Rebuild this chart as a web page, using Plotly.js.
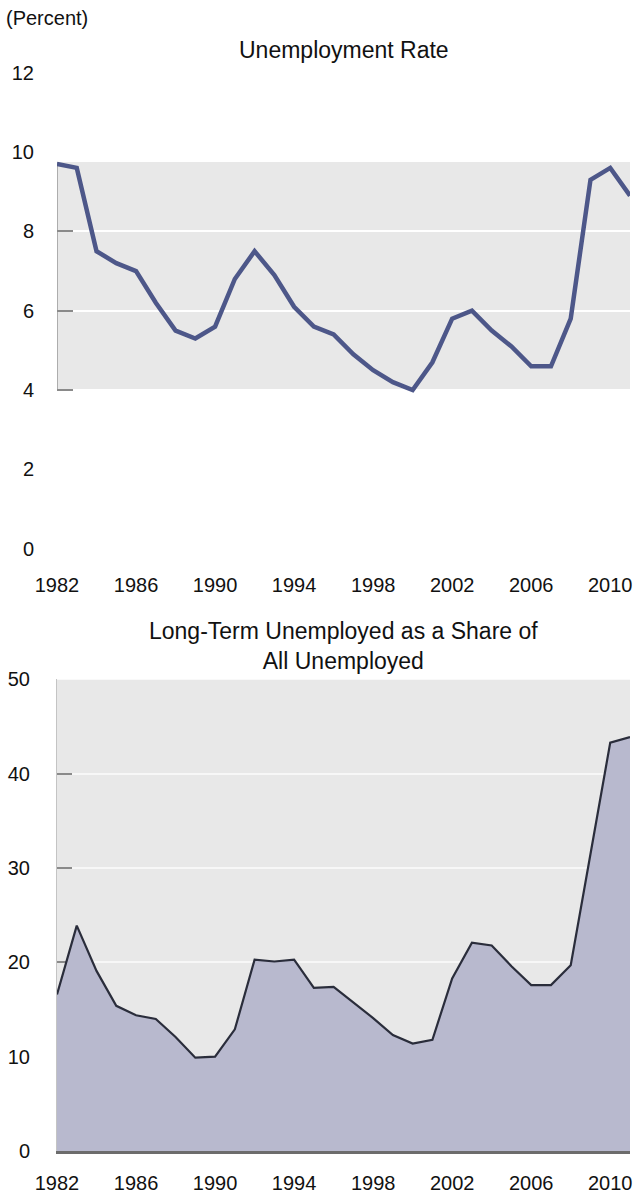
<!DOCTYPE html>
<html>
<head>
<meta charset="utf-8">
<script src="https://cdn.plot.ly/plotly-3.0.1.min.js"></script>
<style>
  html, body { margin: 0; padding: 0; background: #ffffff; }
  #chart { width: 636px; height: 1199px; }
</style>
</head>
<body>
<div id="chart"></div>
<script>
// ---- Data ----
const years = [1982,1983,1984,1985,1986,1987,1988,1989,1990,1991,1992,1993,1994,1995,1996,
               1997,1998,1999,2000,2001,2002,2003,2004,2005,2006,2007,2008,2009,2010,2011];
const unemploymentRate = [9.7,9.6,7.5,7.2,7.0,6.2,5.5,5.3,5.6,6.8,7.5,6.9,6.1,5.6,5.4,
                          4.9,4.5,4.2,4.0,4.7,5.8,6.0,5.5,5.1,4.6,4.6,5.8,9.3,9.6,8.9];
const longTermShare = [16.6,23.9,19.1,15.4,14.4,14.0,12.1,9.9,10.0,12.9,20.3,20.1,20.3,17.3,17.4,
                       15.8,14.1,12.3,11.4,11.8,18.3,22.1,21.8,19.6,17.6,17.6,19.7,31.5,43.3,43.9];
const xTickYears = [1982,1986,1990,1994,1998,2002,2006,2010];
const topYTicks = [0,2,4,6,8,10,12];
const topYMarks = [4,6,8];
const bottomYTicks = [0,10,20,30,40,50];
const bottomTopMark = [50];
const unitLabel = "(Percent)";
const topTitle = "Unemployment Rate";
const bottomTitle = "Long-Term Unemployed as a Share of<br>All Unemployed";

// ---- Styling ----
const FONT = "Liberation Sans, Arial, sans-serif";
const TXT = "#111111";
const FS = 20;
const TFS = 23;

const traces = [
  {
    x: years, y: unemploymentRate, xaxis: "x", yaxis: "y",
    type: "scatter", mode: "lines",
    line: { color: "#4d5789", width: 4.5 },
    hoverinfo: "skip", showlegend: false
  },
  { x: [], y: [], xaxis: "x", yaxis: "y2", type: "scatter", mode: "lines", showlegend: false },
  {
    x: years, y: longTermShare, xaxis: "x2", yaxis: "y3",
    type: "scatter", mode: "lines", fill: "tozeroy",
    fillcolor: "#b8b9ce",
    line: { color: "#2a2d3b", width: 2.2 },
    hoverinfo: "skip", showlegend: false
  },
  { x: [], y: [], xaxis: "x2", yaxis: "y4", type: "scatter", mode: "lines", showlegend: false }
];

const xCommon = {
  range: [1982, 2011],
  tickvals: xTickYears,
  ticktext: xTickYears.map(String),
  ticks: "",
  showgrid: false,
  zeroline: false,
  fixedrange: true,
  automargin: false,
  tickfont: { family: FONT, size: FS, color: TXT }
};

const layout = {
  width: 636, height: 1199,
  margin: { l: 57, r: 6, t: 0, b: 0 },
  paper_bgcolor: "#ffffff",
  plot_bgcolor: "rgba(0,0,0,0)",
  showlegend: false,
  font: { family: FONT, size: FS, color: TXT },

  xaxis: Object.assign({}, xCommon, {
    anchor: "y", showline: false, ticklabelstandoff: 22
  }),
  yaxis: {
    domain: [0.5423, 0.9394], range: [0, 12], anchor: "x",
    tickvals: topYTicks, ticktext: topYTicks.map(String),
    ticks: "", showgrid: true, gridcolor: "#ffffff", gridwidth: 2,
    zeroline: false, showline: false, automargin: false, fixedrange: true,
    ticklabelstandoff: 22, layer: "below traces",
    tickfont: { family: FONT, size: FS, color: TXT }
  },
  yaxis2: {
    overlaying: "y", anchor: "x", range: [0, 12],
    tickvals: topYMarks, ticks: "inside", ticklen: 16, tickwidth: 2, tickcolor: "#8a8a8a",
    showticklabels: false, showgrid: false, zeroline: false, showline: false,
    layer: "below traces", fixedrange: true
  },

  xaxis2: Object.assign({}, xCommon, {
    anchor: "y3", showline: true, linecolor: "#6c6c6c", linewidth: 2.5,
    ticklabelstandoff: 12
  }),
  yaxis3: {
    domain: [0.0400, 0.4333], range: [0, 50], anchor: "x2",
    tickvals: bottomYTicks, ticktext: bottomYTicks.map(String),
    ticks: "inside", ticklen: 15, tickwidth: 2, tickcolor: "#8a8a8a",
    showgrid: true, gridcolor: "#f7f7f7", gridwidth: 2,
    zeroline: false, showline: true, linecolor: "#c4c4c4", linewidth: 1,
    automargin: false, fixedrange: true,
    ticklabelstandoff: 22, layer: "below traces",
    tickfont: { family: FONT, size: FS, color: TXT }
  },
  yaxis4: {
    overlaying: "y3", anchor: "x2", range: [0, 50],
    tickvals: bottomTopMark, ticks: "inside", ticklen: 15, tickwidth: 2, tickcolor: "#2a2a2a",
    showticklabels: false, showgrid: false, zeroline: false, showline: false,
    layer: "below traces", fixedrange: true
  },

  shapes: [
    { type: "rect", xref: "x", yref: "y", x0: 1982, x1: 2011, y0: 4, y1: 9.75,
      fillcolor: "#e8e8e8", line: { width: 0 }, layer: "below" },
    { type: "line", xref: "x", yref: "y", x0: 1982, x1: 1982, y0: 4, y1: 9.75,
      line: { color: "#9a9a9a", width: 1.5 }, layer: "below" },
    { type: "rect", xref: "x2", yref: "y3", x0: 1982, x1: 2011, y0: 0, y1: 50,
      fillcolor: "#e8e8e8", line: { width: 0 }, layer: "below" }
  ],

  annotations: [
    { text: unitLabel, xref: "paper", yref: "paper", x: -0.093, y: 1 - 18/1199,
      xanchor: "left", yanchor: "middle", showarrow: false,
      font: { family: FONT, size: FS, color: TXT } },
    { text: topTitle, xref: "paper", yref: "paper", x: 0.5, y: 1 - 50/1199,
      xanchor: "center", yanchor: "middle", showarrow: false,
      font: { family: FONT, size: TFS, color: TXT } },
    { text: bottomTitle, xref: "paper", yref: "paper", x: 0.5, y: 1 - 646/1199,
      xanchor: "center", yanchor: "middle", showarrow: false,
      font: { family: FONT, size: TFS, color: TXT } }
  ]
};

Plotly.newPlot("chart", traces, layout, { displayModeBar: false, staticPlot: true });
</script>
</body>
</html>
